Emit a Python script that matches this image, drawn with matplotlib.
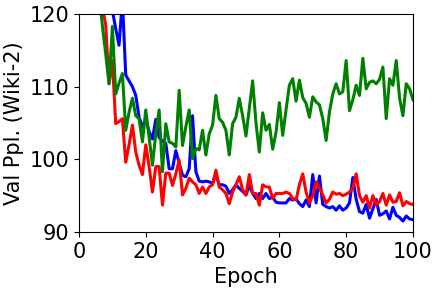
import matplotlib
matplotlib.use("Agg")
import matplotlib.pyplot as plt

epochs = list(range(1, 101))

blue_ppl = [300, 230, 180, 150, 135, 128, 124, 122, 121, 120.5,
            118.0, 115.7, 122.0, 111.6, 110.8, 110.0, 108.8, 105.8, 104.5, 105.5,
            103.8, 102.8, 105.5, 103.0, 102.5, 102.2, 98.7, 98.7, 101.2, 99.5,
            97.8, 97.6, 98.7, 106.0, 98.3, 97.0, 96.9, 97.0, 96.9, 96.7,
            97.9, 96.5, 96.5, 96.3, 95.3, 95.8, 96.5, 96.0, 95.6, 95.1,
            96.4, 95.3, 94.6, 95.3, 94.6, 95.3, 94.6, 94.8, 94.1, 94.0,
            94.0, 94.0, 94.6, 94.4, 94.6, 93.9, 93.5, 94.4, 93.5, 97.9,
            94.0, 97.7, 93.8, 93.5, 93.3, 93.5, 93.0, 93.6, 93.0, 93.3,
            94.0, 97.5, 94.5, 92.8, 92.6, 93.8, 91.9, 93.2, 94.5, 92.3,
            92.5, 92.9, 91.8, 93.4, 92.3, 92.0, 91.5, 92.2, 91.8, 91.7]

red_ppl = [300, 220, 170, 145, 132, 124, 121, 118.5, 110.4, 113.6,
           104.9, 105.2, 105.6, 99.6, 102.0, 104.7, 101.0, 99.2, 97.9, 102.0,
           99.0, 95.5, 99.0, 99.0, 93.7, 98.1, 98.1, 96.4, 98.0, 99.9,
           95.1, 96.0, 97.4, 96.9, 96.5, 95.3, 96.2, 95.3, 96.2, 96.5,
           98.5, 96.2, 95.8, 95.3, 93.9, 95.5, 96.5, 97.6, 95.8, 95.1,
           97.9, 95.3, 95.3, 93.7, 96.5, 96.2, 96.2, 94.6, 95.3, 95.3,
           95.3, 95.5, 95.3, 94.6, 94.4, 96.5, 98.0, 95.5, 94.0, 95.0,
           96.9, 96.1, 95.1, 94.0, 94.5, 95.5, 95.2, 95.3, 95.0, 95.2,
           95.5, 96.0, 98.0, 95.0, 94.1, 95.0, 93.3, 95.0, 93.7, 94.2,
           95.3, 93.7, 95.1, 94.1, 94.2, 95.4, 93.6, 94.2, 93.9, 93.8]

green_ppl = [300, 220, 170, 145, 132, 123, 118.4, 114.5, 110.4, 118.3,
             109.0, 110.5, 111.8, 104.0, 106.5, 108.4, 106.0, 105.6, 102.4, 106.8,
             103.0, 99.2, 103.5, 106.8, 98.3, 104.9, 102.4, 102.2, 101.7, 109.5,
             101.9, 104.5, 106.8, 100.1, 101.5, 101.3, 104.0, 100.6, 103.5, 104.7,
             108.8, 105.6, 105.1, 104.0, 100.6, 104.9, 105.8, 108.4, 106.0, 103.2,
             107.0, 110.8, 105.0, 101.0, 106.4, 104.0, 104.8, 101.4, 103.7, 107.8,
             103.3, 106.8, 110.2, 111.1, 108.0, 110.9, 108.5, 107.7, 105.8, 108.6,
             107.9, 107.5, 105.6, 102.6, 106.5, 109.0, 110.4, 109.0, 109.3, 113.6,
             106.7, 108.2, 110.2, 108.8, 113.9, 109.7, 110.6, 110.8, 110.4, 111.0,
             112.7, 105.6, 111.1, 110.2, 113.6, 108.4, 106.0, 110.4, 109.7, 108.2]

plt.rcParams["font.size"] = 15

fig = plt.figure(figsize=(4.4, 2.9), dpi=100)
ax = fig.add_axes([0.1795, 0.2, 0.759, 0.7517])

ax.plot(epochs, blue_ppl, color="blue", linewidth=2.2)
ax.plot(epochs, red_ppl, color="red", linewidth=2.2)
ax.plot(epochs, green_ppl, color="green", linewidth=2.2)

ax.set_xlim(0, 100)
ax.set_ylim(90, 120)
ax.set_xticks([0, 20, 40, 60, 80, 100])
ax.set_yticks([90, 100, 110, 120])
ax.set_xlabel("Epoch")
ax.set_ylabel("Val Ppl. (Wiki-2)")

fig.savefig("out.png", dpi=100)
